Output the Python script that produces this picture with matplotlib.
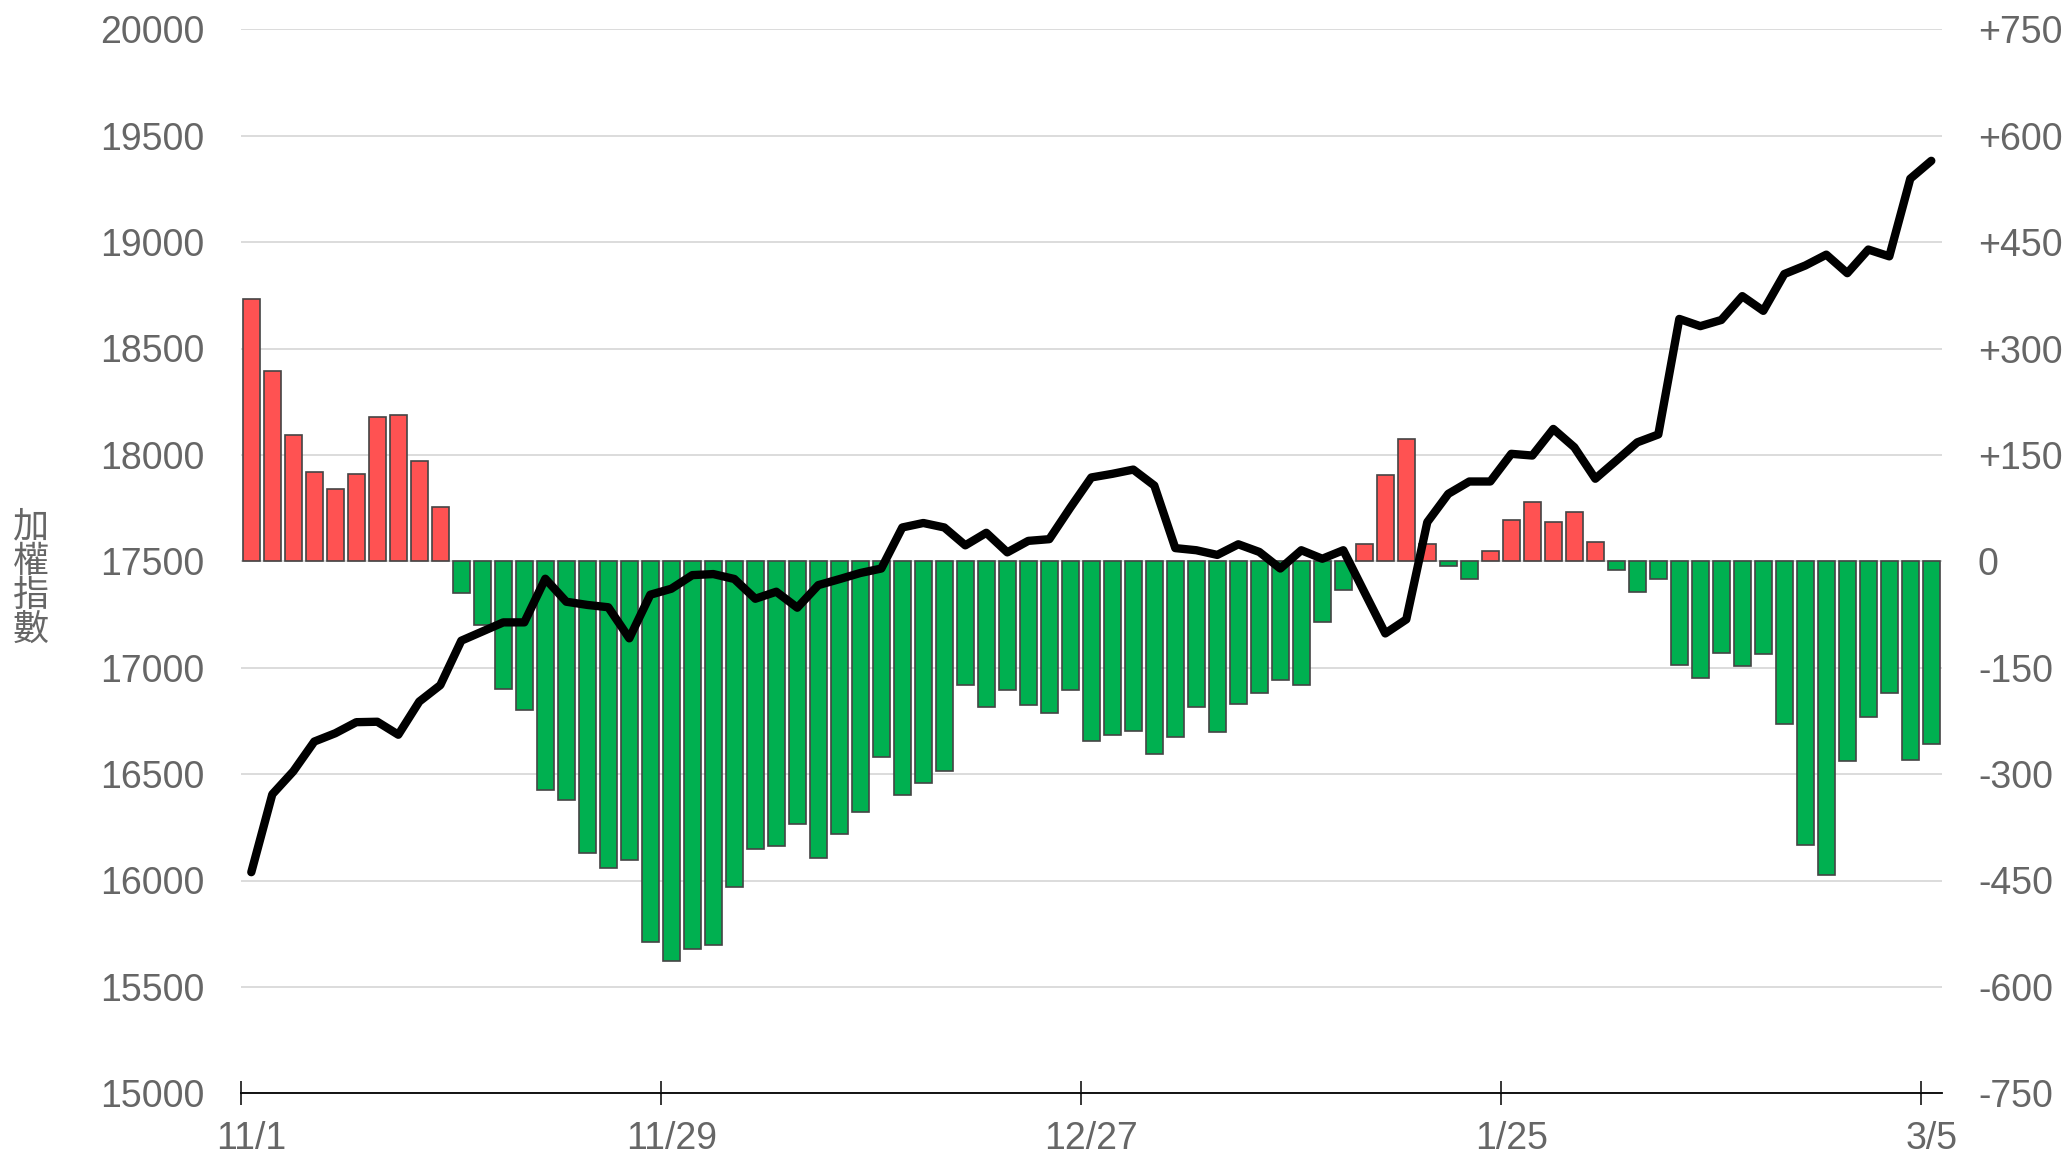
import matplotlib
matplotlib.use("Agg")
import matplotlib.pyplot as plt
import numpy as np

# ---- data ----
diff_values = [370, 268, 178, 126, 102, 123, 204, 206, 142, 76,
               -45, -90, -180, -209, -322, -337, -411, -432, -421, -536,
               -564, -546, -541, -459, -405, -402, -371, -418, -384, -353,
               -276, -329, -312, -296, -174, -205, -181, -202, -214, -182,
               -253, -245, -239, -272, -248, -206, -240, -201, -186, -168,
               -174, -86, -40, 24, 121, 172, 24, -7, -25, 15,
               58, 84, 56, 69, 27, -12, -43, -25, -146, -165,
               -129, -148, -130, -229, -400, -442, -281, -219, -186, -280,
               -257]
index_values = [16039, 16405, 16513, 16653, 16692, 16744, 16746, 16685, 16841, 16918,
                17127, 17170, 17213, 17213, 17418, 17310, 17295, 17284, 17138, 17343,
                17371, 17435, 17440, 17417, 17324, 17357, 17282, 17388, 17416, 17445,
                17466, 17659, 17680, 17659, 17575, 17634, 17542, 17596, 17604, 17752,
                17894, 17911, 17931, 17856, 17562, 17552, 17530, 17580, 17544, 17466,
                17552, 17512, 17552, 17356, 17161, 17227, 17684, 17817, 17875, 17875,
                18005, 17997, 18122, 18036, 17888, 17973, 18059, 18096, 18639, 18605,
                18634, 18746, 18677, 18850, 18890, 18941, 18854, 18965, 18933, 19298,
                19382]
tick_positions = [0, 20, 40, 60, 80]
tick_labels = ["11/1", "11/29", "12/27", "1/25", "3/5"]
left_ticks = [15000, 15500, 16000, 16500, 17000, 17500, 18000, 18500, 19000, 19500, 20000]
right_ticks = [-750, -600, -450, -300, -150, 0, 150, 300, 450, 600, 750]
y_label = "加權指數"

# ---- style ----
TEXT_COLOR = "#666666"
RED = "#FF5252"
GREEN = "#00B050"
FONT = ["Liberation Sans", "DejaVu Sans"]
plt.rcParams["font.family"] = FONT

W, H, DPI = 2064, 1158, 100
fig = plt.figure(figsize=(W / DPI, H / DPI), dpi=DPI)
ax = fig.add_axes([240.8 / W, 1 - 1093.3 / H, (1941.8 - 240.8) / W, (1093.3 - 29.3) / H])
ax2 = ax.twinx()

x = np.arange(len(diff_values))
vals = np.array(diff_values)
colors = [RED if v >= 0 else GREEN for v in vals]
ax.bar(x, vals, width=0.82, color=colors, edgecolor="#444444", linewidth=1.2, zorder=2)
ax.set_ylim(-750, 750)
ax.set_xlim(-0.5, len(diff_values) - 0.5)
ax.set_yticks(right_ticks)
ax.set_yticklabels([("+%d" % v) if v > 0 else ("%d" % v) for v in right_ticks])
ax.yaxis.tick_right()
ax.tick_params(axis="y", length=0, pad=26, labelsize=27, labelcolor=TEXT_COLOR)
ax.grid(axis="y", color="#d9d9d9", linewidth=1.3, zorder=0)
ax.set_axisbelow(True)
for s in ["top", "left", "right"]:
    ax.spines[s].set_visible(False)
ax.spines["bottom"].set_color("black")
ax.spines["bottom"].set_linewidth(1.3)
ax.spines["bottom"].set_zorder(5)

# x ticks: labels at bar centers, marks at band starts
ax.set_xticks(tick_positions)
ax.set_xticklabels(tick_labels)
ax.tick_params(axis="x", which="major", length=0, pad=20, labelsize=27, labelcolor=TEXT_COLOR)
ax.set_xticks([p - 0.5 for p in tick_positions], minor=True)
ax.tick_params(axis="x", which="minor", direction="inout", length=17, width=1.1, color="black")

ax2.plot(x, index_values, color="black", linewidth=6, solid_joinstyle="round",
         solid_capstyle="round", zorder=3)
ax2.set_ylim(15000, 20000)
ax2.set_yticks(left_ticks)
ax2.yaxis.tick_left()
ax2.tick_params(axis="y", length=0, pad=26, labelsize=27, labelcolor=TEXT_COLOR)
for s in ["top", "left", "right", "bottom"]:
    ax2.spines[s].set_visible(False)

fig.text(31 / W, 0.5, "\n".join(y_label), ha="center", va="center", fontsize=26,
         color=TEXT_COLOR, family=["Noto Sans CJK TC", "DejaVu Sans"], linespacing=0.95)

fig.savefig("out.png", dpi=DPI)
